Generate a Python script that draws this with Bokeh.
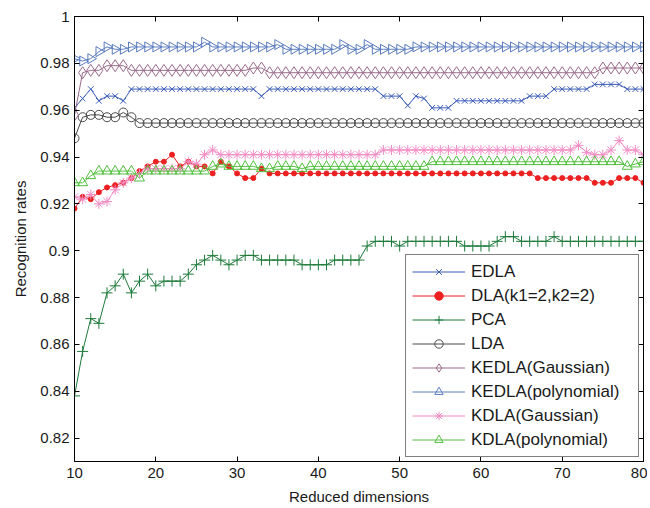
import math
from bokeh.plotting import figure
from bokeh.models import LinearAxis, FixedTicker, Range1d, ColumnDataSource
from bokeh.embed import file_html
from bokeh.resources import INLINE

# ---------------- data ----------------
dims = list(range(10, 81))

x_ticks = [10, 20, 30, 40, 50, 60, 70, 80]
x_tick_labels = ["10", "20", "30", "40", "50", "60", "70", "80"]
y_ticks = [0.82, 0.84, 0.86, 0.88, 0.90, 0.92, 0.94, 0.96, 0.98, 1.0]
y_tick_labels = ["0.82", "0.84", "0.86", "0.88", "0.9", "0.92", "0.94", "0.96", "0.98", "1"]

edla = [
    0.961, 0.965, 0.969, 0.964, 0.966, 0.966, 0.964, 0.969, 0.969, 0.969,
    0.969, 0.969, 0.969, 0.969, 0.969, 0.969, 0.969, 0.969, 0.969, 0.969,
    0.969, 0.969, 0.969, 0.966, 0.969, 0.969, 0.969, 0.969, 0.969, 0.969,
    0.969, 0.969, 0.969, 0.969, 0.969, 0.969, 0.969, 0.969, 0.966, 0.966,
    0.966, 0.962, 0.966, 0.965, 0.961, 0.961, 0.961, 0.964, 0.964, 0.964,
    0.964, 0.964, 0.964, 0.964, 0.964, 0.964, 0.966, 0.966, 0.966, 0.969,
    0.969, 0.969, 0.969, 0.969, 0.971, 0.971, 0.971, 0.971, 0.969, 0.969,
    0.969,
]
dla = [
    0.918, 0.923, 0.922, 0.925, 0.927, 0.928, 0.929, 0.931, 0.934, 0.936,
    0.938, 0.938, 0.941, 0.936, 0.938, 0.936, 0.936, 0.933, 0.938, 0.936,
    0.933, 0.931, 0.931, 0.935, 0.933, 0.933, 0.933, 0.933, 0.933, 0.933,
    0.933, 0.933, 0.933, 0.933, 0.933, 0.933, 0.933, 0.933, 0.933, 0.933,
    0.933, 0.933, 0.933, 0.933, 0.933, 0.933, 0.933, 0.933, 0.933, 0.933,
    0.933, 0.933, 0.933, 0.933, 0.933, 0.933, 0.933, 0.931, 0.931, 0.931,
    0.931, 0.931, 0.931, 0.931, 0.929, 0.929, 0.929, 0.931, 0.931, 0.931,
    0.929,
]
pca = [
    0.838, 0.857, 0.871, 0.869, 0.882, 0.885, 0.890, 0.882, 0.887, 0.890,
    0.885, 0.887, 0.887, 0.887, 0.890, 0.894, 0.896, 0.898, 0.896, 0.894,
    0.896, 0.898, 0.898, 0.896, 0.896, 0.896, 0.896, 0.896, 0.894, 0.894,
    0.894, 0.894, 0.896, 0.896, 0.896, 0.896, 0.902, 0.904, 0.904, 0.904,
    0.902, 0.904, 0.904, 0.904, 0.904, 0.904, 0.904, 0.904, 0.902, 0.902,
    0.902, 0.902, 0.904, 0.906, 0.906, 0.904, 0.904, 0.904, 0.904, 0.906,
    0.904, 0.904, 0.904, 0.904, 0.904, 0.904, 0.904, 0.904, 0.904, 0.904,
    0.904,
]
lda = [
    0.948, 0.957, 0.958, 0.958, 0.957, 0.957, 0.959, 0.957, 0.9545, 0.9545,
    0.9545, 0.9545, 0.9545, 0.9545, 0.9545, 0.9545, 0.9545, 0.9545, 0.9545, 0.9545,
    0.9545, 0.9545, 0.9545, 0.9545, 0.9545, 0.9545, 0.9545, 0.9545, 0.9545, 0.9545,
    0.9545, 0.9545, 0.9545, 0.9545, 0.9545, 0.9545, 0.9545, 0.9545, 0.9545, 0.9545,
    0.9545, 0.9545, 0.9545, 0.9545, 0.9545, 0.9545, 0.9545, 0.9545, 0.9545, 0.9545,
    0.9545, 0.9545, 0.9545, 0.9545, 0.9545, 0.9545, 0.9545, 0.9545, 0.9545, 0.9545,
    0.9545, 0.9545, 0.9545, 0.9545, 0.9545, 0.9545, 0.9545, 0.9545, 0.9545, 0.9545,
    0.9545,
]
kedla_gauss = [
    0.958, 0.976, 0.977, 0.977, 0.979, 0.979, 0.979, 0.977, 0.977, 0.977,
    0.977, 0.977, 0.977, 0.977, 0.977, 0.977, 0.977, 0.977, 0.977, 0.977,
    0.977, 0.977, 0.978, 0.978, 0.976, 0.976, 0.976, 0.976, 0.976, 0.976,
    0.976, 0.976, 0.976, 0.976, 0.976, 0.976, 0.976, 0.976, 0.976, 0.976,
    0.976, 0.976, 0.976, 0.976, 0.976, 0.976, 0.976, 0.976, 0.976, 0.976,
    0.976, 0.976, 0.976, 0.976, 0.976, 0.976, 0.976, 0.976, 0.976, 0.976,
    0.976, 0.976, 0.976, 0.976, 0.976, 0.978, 0.978, 0.978, 0.978, 0.978,
    0.978,
]
kedla_poly = [
    0.982, 0.981, 0.982, 0.985, 0.987, 0.986, 0.986, 0.987, 0.987, 0.987,
    0.987, 0.987, 0.987, 0.987, 0.987, 0.987, 0.989, 0.987, 0.987, 0.987,
    0.987, 0.987, 0.987, 0.987, 0.987, 0.988, 0.986, 0.986, 0.986, 0.986,
    0.986, 0.986, 0.986, 0.988, 0.986, 0.986, 0.988, 0.986, 0.986, 0.986,
    0.986, 0.986, 0.987, 0.987, 0.987, 0.987, 0.987, 0.987, 0.987, 0.987,
    0.987, 0.987, 0.987, 0.987, 0.987, 0.987, 0.987, 0.987, 0.987, 0.987,
    0.987, 0.987, 0.987, 0.987, 0.987, 0.987, 0.987, 0.987, 0.987, 0.987,
    0.987,
]
kdla_gauss = [
    0.923, 0.922, 0.924, 0.920, 0.921, 0.926, 0.929, 0.931, 0.933, 0.935,
    0.935, 0.935, 0.935, 0.935, 0.938, 0.937, 0.941, 0.943, 0.941, 0.941,
    0.941, 0.941, 0.941, 0.941, 0.941, 0.941, 0.941, 0.941, 0.941, 0.941,
    0.941, 0.941, 0.941, 0.941, 0.941, 0.941, 0.941, 0.941, 0.943, 0.943,
    0.943, 0.943, 0.943, 0.943, 0.943, 0.943, 0.943, 0.943, 0.943, 0.943,
    0.943, 0.943, 0.943, 0.943, 0.943, 0.943, 0.943, 0.943, 0.943, 0.943,
    0.943, 0.943, 0.945, 0.942, 0.941, 0.941, 0.943, 0.947, 0.943, 0.943,
    0.941,
]
kdla_poly = [
    0.929, 0.929, 0.932, 0.934, 0.934, 0.934, 0.934, 0.934, 0.931, 0.934,
    0.934, 0.934, 0.934, 0.934, 0.934, 0.934, 0.934, 0.936, 0.937, 0.936,
    0.936, 0.936, 0.936, 0.935, 0.935, 0.936, 0.936, 0.936, 0.935, 0.936,
    0.936, 0.936, 0.936, 0.936, 0.936, 0.936, 0.936, 0.936, 0.936, 0.936,
    0.936, 0.936, 0.936, 0.936, 0.938, 0.938, 0.938, 0.938, 0.938, 0.938,
    0.938, 0.938, 0.938, 0.938, 0.938, 0.938, 0.938, 0.938, 0.938, 0.938,
    0.938, 0.938, 0.938, 0.938, 0.938, 0.938, 0.938, 0.938, 0.936, 0.937,
    0.938,
]

labels = ["EDLA", "DLA(k1=2,k2=2)", "PCA", "LDA", "KEDLA(Gaussian)",
          "KEDLA(polynomial)", "KDLA(Gaussian)", "KDLA(polynomial)"]

# ---------------- figure ----------------
FONT = "Liberation Sans"

p = figure(frame_width=569, frame_height=445,
           min_border_left=74, min_border_right=4,
           min_border_top=16, min_border_bottom=46,
           x_range=Range1d(10, 80), y_range=Range1d(0.81, 1.0),
           output_backend="svg", toolbar_location=None,
           background_fill_color="white", border_fill_color="white")
p.xgrid.visible = False
p.ygrid.visible = False
p.outline_line_color = "black"
p.outline_line_width = 1

def style_axis(ax):
    ax.axis_line_color = "black"
    ax.major_tick_line_color = "black"
    ax.major_tick_in = 5
    ax.major_tick_out = 0
    ax.minor_tick_in = 0
    ax.minor_tick_out = 0
    ax.major_label_text_font = FONT
    ax.major_label_text_font_size = "15px"
    ax.major_label_text_color = "#1a1a1a"
    ax.axis_label_text_font = FONT
    ax.axis_label_text_font_size = "15px"
    ax.axis_label_text_font_style = "normal"
    ax.axis_label_text_color = "#1a1a1a"

xa = p.xaxis[0]
ya = p.yaxis[0]
style_axis(xa)
style_axis(ya)
xa.ticker = FixedTicker(ticks=x_ticks)
xa.major_label_overrides = dict(zip(x_ticks, x_tick_labels))
xa.major_label_standoff = 6
xa.axis_label = "Reduced dimensions"
xa.axis_label_standoff = 7
ya.ticker = FixedTicker(ticks=y_ticks)
ya.major_label_overrides = dict(zip(y_ticks, y_tick_labels))
ya.major_label_standoff = 5
ya.axis_label = "Recognition rates"
ya.axis_label_standoff = 8

top = LinearAxis(ticker=FixedTicker(ticks=x_ticks))
right = LinearAxis(ticker=FixedTicker(ticks=y_ticks))
for ax in (top, right):
    style_axis(ax)
    ax.major_label_text_font_size = "1px"
    ax.major_label_text_color = None
    ax.major_label_standoff = 0
p.add_layout(top, "above")
p.add_layout(right, "right")

def series(vals, color, marker, size, label, fill=None, angle=0.0):
    src = ColumnDataSource(dict(x=dims, y=vals, a=[angle] * len(dims)))
    p.line("x", "y", source=src, line_color=color, line_width=1, legend_label=label)
    p.scatter("x", "y", source=src, marker=marker, size=size, line_color=color,
              fill_color=fill, angle="a", line_width=1, legend_label=label)

series(edla, "#3b5cb8", "x", 8, labels[0])
series(dla, "#ec2020", "circle", 5, labels[1], fill="#ec2020")
series(pca, "#1d7a3a", "cross", 11, labels[2])
series(lda, "#4a4a4a", "circle", 9, labels[3])
series(kedla_gauss, "#9a6a8c", "diamond", 12, labels[4])
series(kedla_poly, "#5a7cc0", "triangle", 10, labels[5], angle=-math.pi / 2)
series(kdla_gauss, "#f28cc4", "asterisk", 10, labels[6])
series(kdla_poly, "#52c03e", "triangle", 10, labels[7])

lg = p.legend[0]
lg.location = "bottom_right"
lg.margin = 4
lg.padding = 6
lg.spacing = 3
lg.glyph_width = 53
lg.glyph_height = 21
lg.label_standoff = 6
lg.label_width = 161
lg.label_height = 21
lg.label_text_font = FONT
lg.label_text_font_size = "17px"
lg.label_text_color = "#1a1a1a"
lg.border_line_color = "black"
lg.border_line_width = 1
lg.background_fill_color = "white"
lg.background_fill_alpha = 1.0

open("out.html", "w").write(file_html(p, INLINE))
